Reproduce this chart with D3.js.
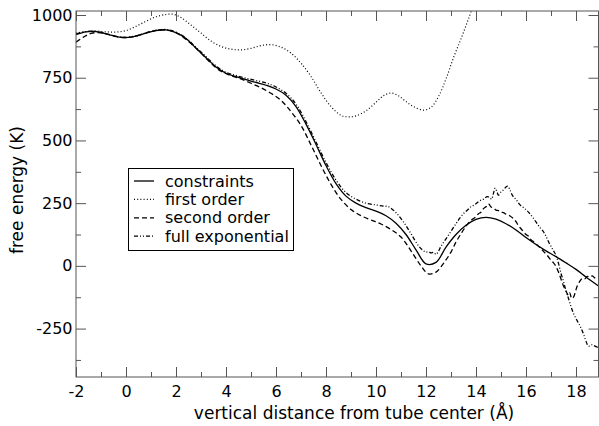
<!DOCTYPE html>
<html><head><meta charset="utf-8">
<script src="https://cdn.jsdelivr.net/npm/d3@7"></script>
<style>html,body{margin:0;padding:0;background:#fff;}svg{display:block;font-family:"DejaVu Sans",sans-serif;}</style>
</head><body>
<svg id="c" width="599" height="426"></svg>
<script>
// ---- data ----
const constraintsX = [-2,-1.6,-1.2,-0.8,-0.4,0,0.4,0.8,1.2,1.6,2.0,2.4,2.8,3.2,3.6,4.0,4.4,4.8,5.2,5.6,6.0,6.4,6.8,7.2,7.6,8.0,8.4,8.8,9.2,9.6,10.0,10.4,10.8,11.2,11.6,12.0,12.4,12.8,13.2,13.6,14.0,14.4,14.8,15.2,15.6,16.0,16.4,16.8,17.2,17.6,18.0,18.4,18.9];
const constraintsY = [922,933,934,925,914,910,916,928,938,941,930,906,868,830,793,768,754,742,731,720,705,680,635,565,484,400,328,278,250,232,218,200,170,125,64,8,14,75,125,162,185,193,186,168,143,113,85,60,37,12,-14,-44,-80];

const firstOrderX = [-2,-1.6,-1.2,-0.8,-0.4,0,0.4,0.8,1.2,1.6,1.9,2.2,2.6,3.0,3.4,3.8,4.2,4.6,5.0,5.4,5.8,6.2,6.6,7.0,7.4,7.8,8.2,8.6,8.9,9.2,9.6,10.0,10.3,10.6,10.9,11.2,11.5,11.9,12.2,12.5,12.8,13.1,13.4,13.7,14.0];
const firstOrderY = [928,934,936,933,932,938,955,975,993,1002,1003,990,960,928,896,875,864,861,867,878,882,872,848,808,755,690,635,600,594,598,618,652,678,689,678,655,635,621,632,675,745,830,905,985,1070];

const secondOrderX = [-2,-1.7,-1.4,-1.0,-0.6,-0.2,0.2,0.6,1.0,1.4,1.8,2.2,2.6,3.0,3.4,3.8,4.2,4.6,5.0,5.4,5.8,6.2,6.6,7.0,7.4,7.8,8.2,8.6,9.0,9.4,9.8,10.2,10.6,11.0,11.4,11.8,12.1,12.4,12.7,13.0,13.2,13.4,13.6,13.8,13.95,14.1,14.2,14.3,14.4,14.5,14.6,14.7,14.8,14.9,15.0,15.1,15.2,15.35,15.5,15.6,15.7,15.8,15.9,16.0,16.1,16.2,16.35,16.5,16.6,16.7,16.85,17.0,17.1,17.2,17.3,17.4,17.5,17.6,17.7,17.75,17.83,17.9,17.97,18.05,18.15,18.25,18.35,18.45,18.55,18.65,18.75,18.9];
const secondOrderY = [892,912,927,929,920,911,912,922,934,941,937,918,886,848,808,776,758,745,728,710,688,660,615,560,482,400,325,265,225,200,183,167,145,115,60,0,-32,-25,10,55,95,128,158,182,192,208,214,228,236,247,235,231,222,220,214,212,206,200,188,176,160,148,136,125,118,104,93,78,70,58,42,22,12,-2,-25,-52,-80,-100,-118,-108,-130,-125,-105,-80,-62,-50,-52,-42,-45,-40,-48,-52];

const fullExpX = [-2,-1.6,-1.2,-0.8,-0.4,0,0.4,0.8,1.2,1.6,2.0,2.4,2.8,3.2,3.6,4.0,4.4,4.8,5.2,5.6,6.0,6.4,6.8,7.2,7.6,8.0,8.4,8.8,9.2,9.6,10.0,10.3,10.5,10.8,11.1,11.4,11.7,11.9,12.0,12.1,12.2,12.3,12.4,12.5,12.6,12.8,13.0,13.2,13.35,13.5,13.65,13.8,13.95,14.1,14.2,14.3,14.45,14.55,14.62,14.7,14.77,14.85,14.9,15.0,15.1,15.2,15.27,15.35,15.45,15.55,15.65,15.75,15.9,16.0,16.1,16.25,16.4,16.55,16.7,16.8,16.9,17.0,17.1,17.2,17.3,17.4,17.5,17.6,17.7,17.8,17.9,18.0,18.1,18.2,18.3,18.4,18.48,18.55,18.65,18.72,18.8,18.9];
const fullExpY = [925,934,935,926,915,911,917,929,939,942,932,908,871,834,797,772,759,748,739,729,713,688,645,575,494,412,342,292,266,250,243,238,236,212,175,128,80,60,55,56,52,54,46,58,78,108,138,168,190,208,222,236,244,256,262,266,276,272,266,290,310,292,282,295,303,314,318,305,282,270,258,244,232,224,214,196,175,154,136,118,96,78,60,42,10,-30,-62,-100,-130,-162,-190,-210,-228,-248,-272,-300,-318,-320,-314,-318,-322,-326];

const seriesNames = ["constraints","first order","second order","full exponential"];
const xTicks = [-2,0,2,4,6,8,10,12,14,16,18];
const yTicks = [-250,0,250,500,750,1000];
const xMinor = [-1,1,3,5,7,9,11,13,15,17];
const yMinor = [-375,-125,125,375,625,875];

// ---- layout ----
const L = 76, R = 598.5, T = 11, B = 377;
const xs = d3.scaleLinear().domain([-2, 18.9]).range([L, R]);
const ys = d3.scaleLinear().domain([-443, 1016]).range([B, T]);
const svg = d3.select("#c");

svg.append("defs").append("clipPath").attr("id","clip")
  .append("rect").attr("x",L).attr("y",T).attr("width",R-L).attr("height",B-T);

const styles = [
  {dash:null, w:1.3},
  {dash:"1,2.2", w:1.2},
  {dash:"5,3", w:1.3},
  {dash:"4,2,1,2,1,2", w:1.3}
];
const data = [
  d3.zip(constraintsX, constraintsY),
  d3.zip(firstOrderX, firstOrderY),
  d3.zip(secondOrderX, secondOrderY),
  d3.zip(fullExpX, fullExpY)
];
const line = d3.line().x(d=>xs(d[0])).y(d=>ys(d[1])).curve(d3.curveCatmullRom.alpha(0.5));
const g = svg.append("g").attr("clip-path","url(#clip)");
data.forEach((d,i)=>{
  g.append("path").attr("d", line(d)).attr("fill","none").attr("stroke","#000")
    .attr("stroke-width", styles[i].w).attr("stroke-dasharray", styles[i].dash);
});

// ---- axes ----
const frameCol = "#555";
const fmt = d => String(d);
svg.append("g").attr("transform",`translate(0,${B})`)
  .call(d3.axisBottom(xs).tickValues(xTicks).tickSize(-10).tickPadding(9).tickFormat(fmt));
svg.append("g").attr("transform",`translate(${L},0)`)
  .call(d3.axisLeft(ys).tickValues(yTicks).tickSize(-10).tickPadding(3.5).tickFormat(fmt));
svg.append("g").attr("transform",`translate(0,${T})`)
  .call(d3.axisTop(xs).tickValues(xTicks).tickSize(-10).tickFormat(""));
svg.append("g").attr("transform",`translate(${R},0)`)
  .call(d3.axisRight(ys).tickValues(yTicks).tickSize(-10).tickFormat(""));
svg.append("g").attr("transform",`translate(0,${B})`).call(d3.axisBottom(xs).tickValues(xMinor).tickSize(-5).tickFormat(""));
svg.append("g").attr("transform",`translate(0,${T})`).call(d3.axisTop(xs).tickValues(xMinor).tickSize(-5).tickFormat(""));
svg.append("g").attr("transform",`translate(${L},0)`).call(d3.axisLeft(ys).tickValues(yMinor).tickSize(-5).tickFormat(""));
svg.append("g").attr("transform",`translate(${R},0)`).call(d3.axisRight(ys).tickValues(yMinor).tickSize(-5).tickFormat(""));
svg.selectAll(".domain").remove();
svg.selectAll(".tick line").attr("stroke",frameCol).attr("stroke-width",1);
svg.selectAll(".tick text").attr("font-size",16).attr("font-family","DejaVu Sans").attr("fill","#000");
svg.append("rect").attr("x",L).attr("y",T).attr("width",R-L).attr("height",B-T)
  .attr("fill","none").attr("stroke",frameCol).attr("stroke-width",1);

// titles
svg.append("text").attr("x",354).attr("y",419).attr("text-anchor","middle")
  .attr("font-size",17).text("vertical distance from tube center (Å)");
svg.append("text").attr("transform","translate(23,190) rotate(-90)").attr("text-anchor","middle")
  .attr("font-size",17).text("free energy (K)");

// legend
const lg = svg.append("g");
lg.append("rect").attr("x",128.5).attr("y",168.5).attr("width",165).attr("height",82)
  .attr("fill","#fff").attr("stroke","#000").attr("stroke-width",1);
seriesNames.forEach((n,i)=>{
  const yy = 181 + i*18.4;
  lg.append("line").attr("x1",134).attr("x2",154).attr("y1",yy).attr("y2",yy)
    .attr("stroke","#000").attr("stroke-width",styles[i].w).attr("stroke-dasharray",styles[i].dash);
  lg.append("text").attr("x",165).attr("y",yy+5.5).attr("font-size",16).text(n);
});
</script>
</body></html>
